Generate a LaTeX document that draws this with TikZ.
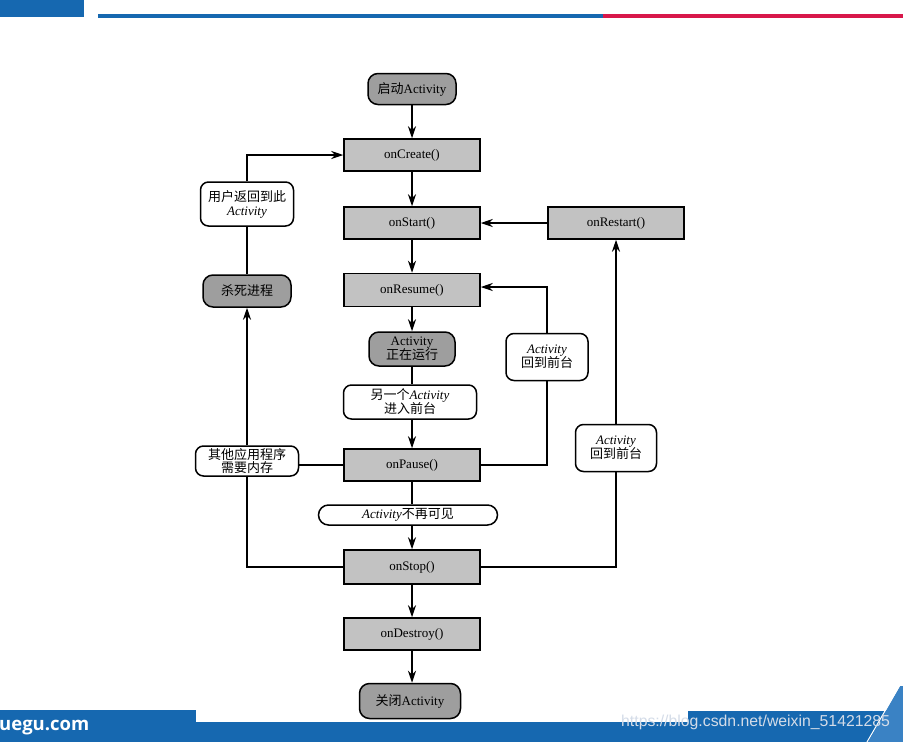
\documentclass[tikz,border=0pt]{standalone}
\usepackage{fontspec}
\setmainfont{Liberation Serif}
\newfontfamily\cjk{Noto Sans CJK SC}
\newfontfamily\wsans{Liberation Sans}
\newfontfamily\osans{Open Sans}
\usetikzlibrary{arrows.meta}
\newcommand{\zh}[1]{{\cjk #1}}
\definecolor{procfill}{HTML}{C2C2C2}
\definecolor{termfill}{HTML}{9E9E9E}
\definecolor{bandblue}{HTML}{1668B0}
\definecolor{lightblue}{HTML}{3A82C4}
\definecolor{topred}{HTML}{D8174A}
\definecolor{wmark}{HTML}{D4DCE8}
\begin{document}
\begin{tikzpicture}[x=1pt,y=-1pt,
  every node/.style={font=\fontsize{13}{14}\selectfont, align=center, inner sep=0pt},
  proc/.style={draw, line width=1.5pt, fill=procfill, minimum width=136pt, minimum height=32pt},
  term/.style={draw, line width=1.5pt, fill=termfill, rounded corners=10pt},
  note/.style={draw, line width=1.5pt, fill=white, rounded corners=8pt},
  ln/.style={line width=1.5pt},
  arr/.style={line width=1.5pt, -{Stealth[length=12pt,width=8pt]}}]
\useasboundingbox (0,0) rectangle (903,742);
% top decorations
\fill[bandblue] (0,0) rectangle (84,17);
\fill[bandblue] (98,13.5) rectangle (603,17.5);
\fill[topred] (603,13.5) rectangle (903,17.5);
% bottom decorations
\fill[bandblue] (0,710) rectangle (196,742);
\fill[bandblue] (196,722) rectangle (688,742);
\fill[bandblue] (688,711) rectangle (903,742);
\fill[lightblue] (868,742) -- (900,686) -- (903,686) -- (903,742) -- cycle;
\draw[white, line width=1pt] (867,742) -- (900,685);
\node[anchor=west, text=white, font=\osans\bfseries\fontsize{18.5}{19}\selectfont] (site) at (-1,728) {uegu.com};
\node[anchor=west, text=wmark, font=\wsans\fontsize{15.8}{16}\selectfont] (wm) at (621,722) {https://blog.csdn.net/weixin\_51421285};
% main column
\node[term, minimum width=88pt, minimum height=31pt] (launch) at (412,89) {\zh{启动}Activity};
\node[proc] (create) at (412,155) {onCreate()};
\node[proc] (startn) at (412,223) {onStart()};
\node[proc] (restart) at (616,223) {onRestart()};
\node[proc, minimum height=33pt] (resume) at (412,290) {onResume()};
\node[term, minimum width=86pt, minimum height=34pt] (running) at (412,349) {Activity\\\zh{正在运行}};
\node[note, minimum width=133pt, minimum height=34pt] (another) at (410,402) {\zh{另一个}\textit{Activity}\\\zh{进入前台}};
\node[proc] (pause) at (412,465) {onPause()};
\node[note, rounded corners=10pt, minimum width=179pt, minimum height=20pt] (invis) at (408,515) {\textit{Activity}\zh{不再可见}};
\node[proc, minimum height=34pt] (stop) at (412,567) {onStop()};
\node[proc] (destroy) at (412,634) {onDestroy()};
\node[term, minimum width=101pt, minimum height=35pt] (close) at (410,701) {\zh{关闭}Activity};
% left column
\node[note, minimum width=93pt, minimum height=44pt] (user) at (247,204) {\zh{用户返回到此}\\\textit{Activity}};
\node[term, minimum width=88pt, minimum height=32pt] (kill) at (247,291) {\zh{杀死进程}};
\node[note, minimum width=103pt, minimum height=30pt] (other) at (247,461) {\zh{其他应用程序}\\[-1pt]\zh{需要内存}};
% right column
\node[note, minimum width=82pt, minimum height=47pt] (back1) at (547,357) {\textit{Activity}\\\zh{回到前台}};
\node[note, minimum width=81pt, minimum height=47pt] (back2) at (616,448) {\textit{Activity}\\\zh{回到前台}};
% connectors main column
\draw[arr] (launch) -- (create);
\draw[arr] (create) -- (startn);
\draw[arr] (startn) -- (resume);
\draw[arr] (resume) -- (running);
\draw[ln] (running) -- (running |- another.north);
\draw[arr] (another.south -| pause.north) -- (pause);
\draw[ln] (pause) -- (pause |- invis.north);
\draw[arr] (invis.south -| stop.north) -- (stop);
\draw[arr] (stop) -- (destroy);
\draw[arr] (destroy) -- (destroy.south |- close.north);
% right loops
\draw[arr] (restart) -- (startn);
\draw[ln] (stop.east) -| (back2.south);
\draw[arr] (back2.north) -- (restart.south);
\draw[ln] (pause.east) -| (back1.south);
\draw[arr] (back1.north) |- ([yshift=3pt]resume.east);
% left loops
\draw[ln] (stop.west) -| (other.south);
\draw[ln] (other.east |- pause.west) -- (pause.west);
\draw[arr] (other.north) -- (kill.south);
\draw[ln] (kill.north) -- (user.south);
\draw[arr] (user.north) |- (create.west);
\end{tikzpicture}
\end{document}
